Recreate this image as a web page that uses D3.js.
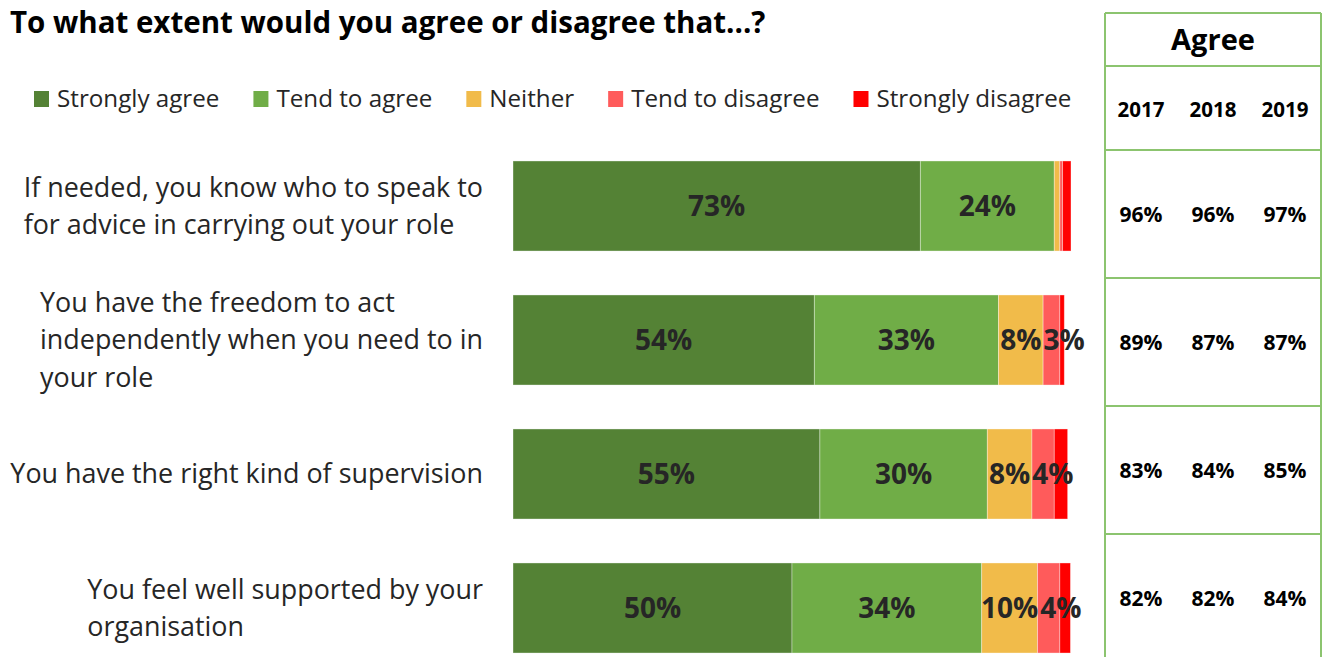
<!DOCTYPE html>
<html>
<head>
<meta charset="utf-8">
<script src="https://cdn.jsdelivr.net/npm/d3@7"></script>
<style>
  html, body { margin: 0; padding: 0; background: #fff; }
  svg { display: block; }
</style>
</head>
<body>
<svg id="chart" width="1324" height="657"></svg>
<script>
// Survey statements (one bar each)
const questions = [
  ["If needed, you know who to speak to", "for advice in carrying out your role"],
  ["You have the freedom to act", "independently when you need to in", "your role"],
  ["You have the right kind of supervision"],
  ["You feel well supported by your", "organisation"]
];

// Response categories, in stacking order
const responses = ["Strongly agree", "Tend to agree", "Neither", "Tend to disagree", "Strongly disagree"];
const responseColors = ["#548235", "#70AD47", "#F1BB4A", "#FF5B5B", "#FF0000"];

// Percentage of respondents per response, per statement (2019)
const stronglyAgree    = [73, 54, 55, 50];
const tendToAgree      = [24, 33, 30, 34];
const neither          = [1, 8, 8, 10];
const tendToDisagree   = [0.5, 3, 4, 4];
const stronglyDisagree = [1.5, 0.8, 2.4, 1.9];

// Total agreement by year
const years = ["2017", "2018", "2019"];
const agree2017 = [96, 89, 83, 82];
const agree2018 = [96, 87, 84, 82];
const agree2019 = [97, 87, 85, 84];

const svg = d3.select("#chart");
const textColor = "#262626";
const fontFamily = "'Open Sans', 'Noto Sans', sans-serif";

// Title
svg.append("text")
  .attr("x", 10).attr("y", 33)
  .attr("font-family", fontFamily)
  .attr("font-size", 29.5)
  .attr("font-weight", 700)
  .attr("fill", "#000")
  .text("To what extent would you agree or disagree that...?");

// Legend
const legend = svg.append("g");
let lx = 34;
responses.forEach((r, i) => {
  legend.append("rect")
    .attr("x", lx).attr("y", 91)
    .attr("width", 15).attr("height", 16)
    .attr("fill", responseColors[i]);
  const t = legend.append("text")
    .attr("x", lx + 23).attr("y", 99).attr("dy", "0.35em")
    .attr("font-family", fontFamily)
    .attr("font-size", 24.2)
    .attr("fill", textColor)
    .text(r);
  lx += 23 + t.node().getComputedTextLength() + 34;
});

// Stack the series
const rows = questions.map((q, i) => ({
  idx: i,
  "Strongly agree": stronglyAgree[i],
  "Tend to agree": tendToAgree[i],
  "Neither": neither[i],
  "Tend to disagree": tendToDisagree[i],
  "Strongly disagree": stronglyDisagree[i]
}));
const series = d3.stack().keys(responses)(rows);

const x = d3.scaleLinear().domain([0, 100]).range([513, 1071]);
const y = d3.scaleBand()
  .domain(d3.range(questions.length))
  .range([139, 675])
  .paddingInner(0.328)
  .paddingOuter(0.164);

const color = d3.scaleOrdinal().domain(responses).range(responseColors);

const layers = svg.append("g").selectAll("g")
  .data(series)
  .join("g")
  .attr("fill", d => color(d.key));

layers.selectAll("rect")
  .data(d => d.map(v => ({ key: d.key, v })))
  .join("rect")
  .attr("x", d => x(d.v[0]))
  .attr("y", d => y(d.v.data.idx))
  .attr("width", d => x(d.v[1]) - x(d.v[0]))
  .attr("height", y.bandwidth())
  .attr("stroke", "rgba(255,255,255,0.45)")
  .attr("stroke-width", 0.8);

// Segment value labels (shown for segments of 3% or more).
// Labels on narrow segments are nudged right so they sit beside the previous one.
const labels = svg.append("g");
questions.forEach((q, i) => {
  let prevRight = -Infinity;
  series.forEach(s => {
    const v = s[i];
    const val = v[1] - v[0];
    if (Math.round(val) < 3) return;
    const t = labels.append("text")
      .attr("y", y(i) + y.bandwidth() / 2)
      .attr("dy", "0.36em")
      .attr("text-anchor", "middle")
      .attr("font-family", fontFamily)
      .attr("font-size", 28)
      .attr("font-weight", 700)
      .attr("fill", textColor)
      .text(Math.round(val) + "%");
    const w = t.node().getComputedTextLength();
    let cx = (x(v[0]) + x(v[1])) / 2;
    if (cx - w / 2 < prevRight + 2) cx = prevRight + 2 + w / 2;
    t.attr("x", cx);
    prevRight = cx + w / 2;
  });
});

// Category labels: left-aligned block, right edge near the bars
const catLabels = svg.append("g");
const lineH = 37.5;
questions.forEach((lines, i) => {
  const g = catLabels.append("g");
  const cy = y(i) + y.bandwidth() / 2;
  const texts = lines.map((ln, j) => g.append("text")
    .attr("y", cy + (j - (lines.length - 1) / 2) * lineH)
    .attr("dy", "0.35em")
    .attr("font-family", fontFamily)
    .attr("font-size", 26.9)
    .attr("fill", textColor)
    .text(ln));
  const maxW = d3.max(texts, t => t.node().getComputedTextLength());
  texts.forEach(t => t.attr("x", 483 - maxW));
});

// Agreement table
const table = svg.append("g");
const tLeft = 1105, tRight = 1321;
const border = "#8CC46F";
const rowScale = d3.scaleBand().domain(d3.range(questions.length)).range([150, 662]);
const colScale = d3.scalePoint().domain(years).range([1141, 1285]);

table.append("text")
  .attr("x", (tLeft + tRight) / 2)
  .attr("y", 40).attr("dy", "0.35em")
  .attr("text-anchor", "middle")
  .attr("font-family", fontFamily)
  .attr("font-size", 29)
  .attr("font-weight", 700)
  .attr("fill", "#000")
  .text("Agree");

years.forEach(yr => {
  table.append("text")
    .attr("x", colScale(yr)).attr("y", 110).attr("dy", "0.35em")
    .attr("text-anchor", "middle")
    .attr("font-family", fontFamily)
    .attr("font-size", 20.5)
    .attr("font-weight", 700)
    .attr("fill", "#000")
    .text(yr);
});

const agreeByYear = [agree2017, agree2018, agree2019];
questions.forEach((q, i) => {
  years.forEach((yr, k) => {
    table.append("text")
      .attr("x", colScale(yr))
      .attr("y", rowScale(i) + rowScale.bandwidth() / 2 + 1)
      .attr("dy", "0.35em")
      .attr("text-anchor", "middle")
      .attr("font-family", fontFamily)
      .attr("font-size", 21)
      .attr("font-weight", 700)
      .attr("fill", "#000")
      .text(agreeByYear[k][i] + "%");
  });
});

// Table grid lines
const hLines = [13, 66].concat(d3.range(questions.length).map(i => rowScale(i)));
hLines.forEach(hy => {
  table.append("line")
    .attr("x1", tLeft).attr("x2", tRight)
    .attr("y1", hy).attr("y2", hy)
    .attr("stroke", border).attr("stroke-width", 2);
});
[tLeft, tRight].forEach(vx => {
  table.append("line")
    .attr("x1", vx).attr("x2", vx)
    .attr("y1", 13).attr("y2", 662)
    .attr("stroke", border).attr("stroke-width", 2);
});
</script>
</body>
</html>
